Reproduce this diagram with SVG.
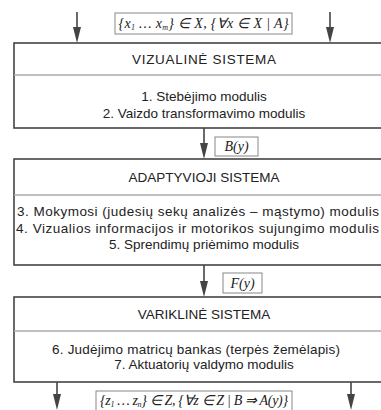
<svg xmlns="http://www.w3.org/2000/svg" width="381" height="410" viewBox="0 0 381 410">
<style>
.box{fill:#fff;stroke:#444;stroke-width:1.6}
.div{stroke:#aaa;stroke-width:1.6}
.t{font-family:"Liberation Sans",Arial,sans-serif;font-size:13.5px;fill:#222;text-anchor:middle}
.s{text-anchor:start}
.m{font-family:"Liberation Serif","Times New Roman",serif;font-size:14px;font-style:italic;fill:#222;text-anchor:middle}
.lb{fill:#fff;stroke:#888;stroke-width:1}
.ar{stroke:#444;stroke-width:1.6;fill:none}
.hd{fill:#444}
</style>
<g id="connectors">
<line class="ar" x1="77" y1="12" x2="77" y2="29"/><path class="hd" d="M73,27 L81,27 L77,43 Z"/>
<line class="ar" x1="330" y1="12" x2="330" y2="29"/><path class="hd" d="M326,27 L334,27 L330,43 Z"/>
<line class="ar" x1="204" y1="128" x2="204" y2="145"/><path class="hd" d="M200,143 L208,143 L204,159 Z"/>
<line class="ar" x1="204" y1="265" x2="204" y2="283"/><path class="hd" d="M200,281 L208,281 L204,297 Z"/>
<line class="ar" x1="57" y1="382" x2="57" y2="396"/><path class="hd" d="M53,394 L61,394 L57,410 Z"/>
<line class="ar" x1="351" y1="382" x2="351" y2="396"/><path class="hd" d="M347,394 L355,394 L351,410 Z"/>
</g>
<g id="input-label">
<rect class="lb" x="115" y="13" width="177" height="21"/>
<text class="m" x="203.5" y="28" textLength="170">{x<tspan font-size="8" dy="2">1</tspan><tspan dy="-2"> … x</tspan><tspan font-size="8" dy="2">m</tspan><tspan dy="-2">} ∈ X, {∀x ∈ X | A}</tspan></text>
</g>
<g id="vizualine">
<rect class="box" x="14" y="43" width="380" height="85"/>
<line class="div" x1="14" y1="75" x2="394" y2="75"/>
<text class="t" x="204" y="64" textLength="144">VIZUALINĖ SISTEMA</text>
<text class="t" x="204" y="101">1. Stebėjimo modulis</text>
<text class="t" x="204" y="118">2. Vaizdo transformavimo  modulis</text>
</g>
<g id="by-label">
<rect class="lb" x="215" y="137" width="43" height="19"/>
<text class="m" x="236.5" y="151">B(y)</text>
</g>
<g id="adaptyvioji">
<rect class="box" x="14" y="159" width="380" height="106"/>
<line class="div" x1="14" y1="195" x2="394" y2="195"/>
<text class="t" x="204" y="182">ADAPTYVIOJI SISTEMA</text>
<text class="t s" x="17" y="216" textLength="362">3. Mokymosi (judesių sekų analizės – mąstymo) modulis</text>
<text class="t s" x="16" y="233" textLength="363">4. Vizualios informacijos ir motorikos sujungimo modulis</text>
<text class="t" x="204" y="249">5. Sprendimų priėmimo modulis</text>
</g>
<g id="fy-label">
<rect class="lb" x="223" y="273" width="39" height="20"/>
<text class="m" x="242.5" y="288">F(y)</text>
</g>
<g id="varikline">
<rect class="box" x="14" y="297" width="380" height="85"/>
<line class="div" x1="14" y1="331" x2="394" y2="331"/>
<text class="t" x="204" y="319">VARIKLINĖ SISTEMA</text>
<text class="t s" x="52" y="354" textLength="288">6. Judėjimo matricų bankas (terpės žemėlapis)</text>
<text class="t" x="204" y="369">7. Aktuatorių valdymo modulis</text>
</g>
<g id="output-label">
<rect class="lb" x="96" y="391" width="196" height="20"/>
<text class="m" x="194" y="405" textLength="188">{z<tspan font-size="8" dy="2">1</tspan><tspan dy="-2"> … z</tspan><tspan font-size="8" dy="2">n</tspan><tspan dy="-2">} ∈ Z, {∀z ∈ Z | B ⇒ A(y)}</tspan></text>
</g>
</svg>
